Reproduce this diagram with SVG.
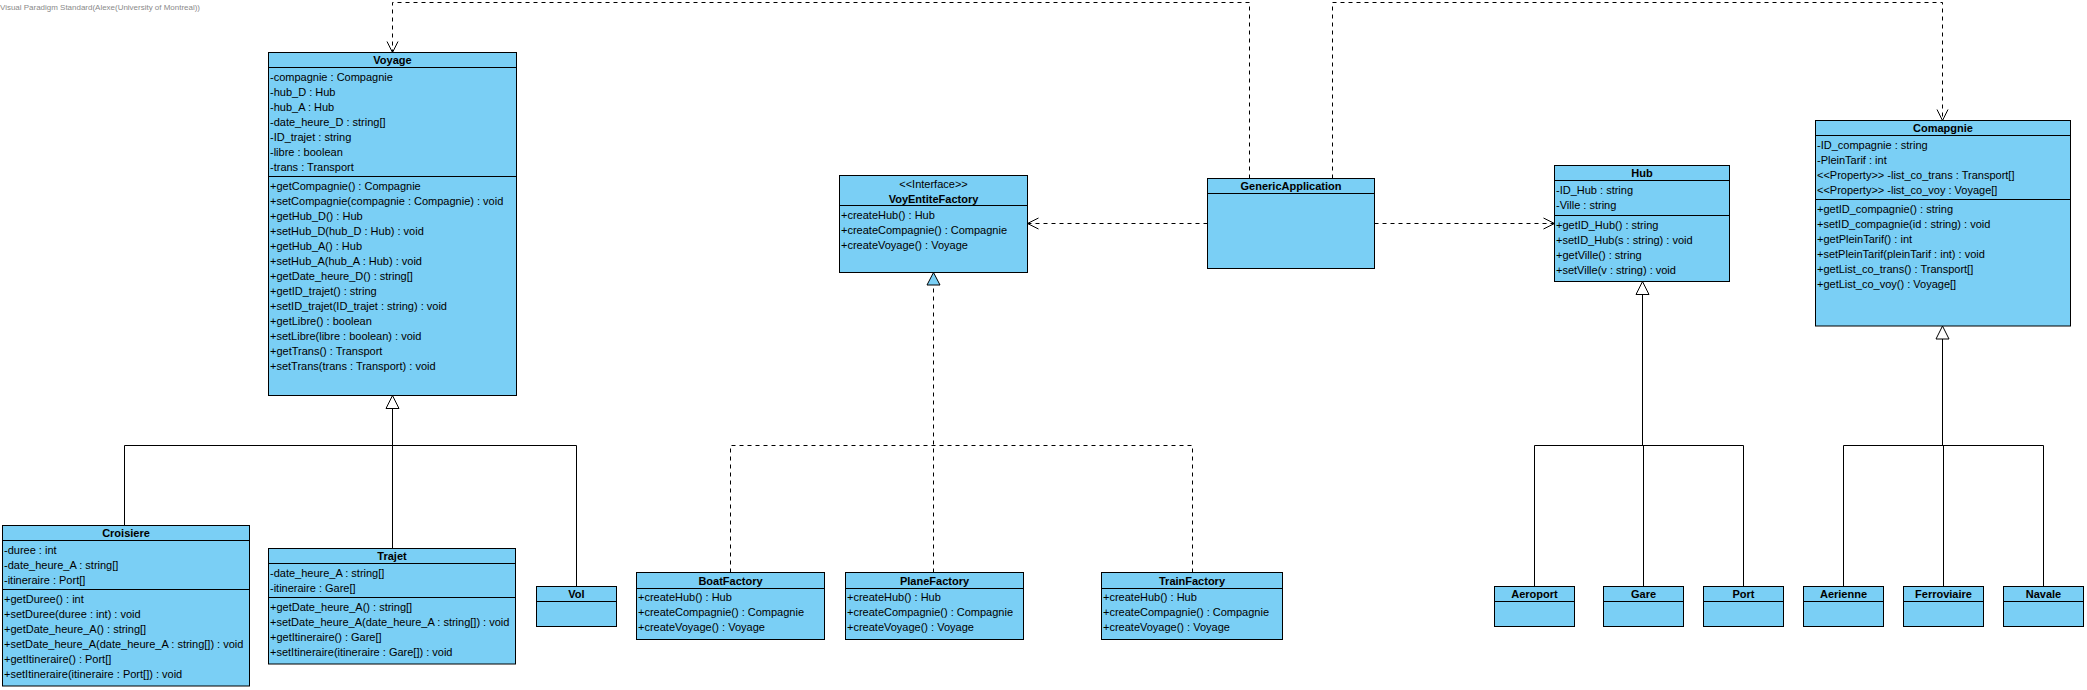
<svg xmlns="http://www.w3.org/2000/svg" width="2087" height="690" viewBox="0 0 2087 690">
<style>
text{font-family:"Liberation Sans",Arial,sans-serif;font-size:11px;fill:#000}
.t{font-weight:bold;text-anchor:middle}
.c{text-anchor:middle}
.box{fill:#7ACFF5;stroke:#000;stroke-width:1}
.ln{stroke:#000;stroke-width:1;fill:none}
.sol{stroke:#000;stroke-width:1;fill:none}
.dash{stroke:#000;stroke-width:1;fill:none;stroke-dasharray:4,4}
.wm{font-size:8px;fill:#8a8a8a}
</style>
<defs>
<marker id="gen" markerUnits="userSpaceOnUse" markerWidth="16" markerHeight="16" viewBox="-14 -8 16 16" refX="0" refY="0" orient="auto">
<path d="M0,0 L-13,-6.5 L-13,6.5 Z" fill="#fff" stroke="#000" stroke-width="1" stroke-dasharray="none"/>
</marker>
<marker id="real" markerUnits="userSpaceOnUse" markerWidth="16" markerHeight="16" viewBox="-14 -8 16 16" refX="0" refY="0" orient="auto">
<path d="M0,0 L-12.5,-6.5 L-12.5,6.5 Z" fill="#7ACFF5" stroke="#000" stroke-width="1" stroke-dasharray="none"/>
</marker>
<marker id="dep" markerUnits="userSpaceOnUse" markerWidth="16" markerHeight="16" viewBox="-14 -8 16 16" refX="0" refY="0" orient="auto">
<path d="M-11,-5.5 L0,0 L-11,5.5" fill="none" stroke="#000" stroke-width="1" stroke-dasharray="none"/>
</marker>
</defs>
<rect width="2087" height="690" fill="#fff"/>
<text class="wm" x="0" y="10" textLength="200" lengthAdjust="spacingAndGlyphs">Visual Paradigm Standard(Alexe(University of Montreal))</text>

<g id="connectors">
<!-- Voyage generalization -->
<path class="sol" d="M392.5,548.5 L392.5,395.5" marker-end="url(#gen)"/>
<path class="sol" d="M124.5,525.5 L124.5,445.5 L576.5,445.5 L576.5,586.5"/>
<!-- Hub generalization -->
<path class="sol" d="M1642.5,445.5 L1642.5,281.5" marker-end="url(#gen)"/>
<path class="sol" d="M1534.5,586.5 L1534.5,445.5 L1743.5,445.5 L1743.5,586.5 M1643.5,445.5 L1643.5,586.5"/>
<!-- Comapgnie generalization -->
<path class="sol" d="M1942.5,445.5 L1942.5,326" marker-end="url(#gen)"/>
<path class="sol" d="M1843.5,586.5 L1843.5,445.5 L2043.5,445.5 L2043.5,586.5 M1943.5,445.5 L1943.5,586.5"/>
<!-- Realization -->
<path class="dash" d="M933.5,572.5 L933.5,272.5" marker-end="url(#real)"/>
<path class="dash" d="M730.5,572.5 L730.5,445.5 L1192.5,445.5 L1192.5,572.5"/>
<!-- Dependencies -->
<path class="dash" d="M1207.5,223.5 L1027.5,223.5" marker-end="url(#dep)"/>
<path class="dash" d="M1374.5,223.5 L1554.5,223.5" marker-end="url(#dep)"/>
<path class="dash" d="M1249.5,178.5 L1249.5,2.5 L392.5,2.5 L392.5,52.5" marker-end="url(#dep)"/>
<path class="dash" d="M1332.5,178.5 L1332.5,2.5 L1942.5,2.5 L1942.5,120.5" marker-end="url(#dep)"/>
</g>

<g id="Voyage">
<rect class="box" x="268.5" y="52.5" width="248" height="343"/>
<path class="ln" d="M268.5,67.5 H516.5 M268.5,176.5 H516.5"/>
<text class="t" x="392.5" y="64">Voyage</text>
<text x="270" y="81">-compagnie : Compagnie</text>
<text x="270" y="96">-hub_D : Hub</text>
<text x="270" y="111">-hub_A : Hub</text>
<text x="270" y="126">-date_heure_D : string[]</text>
<text x="270" y="141">-ID_trajet : string</text>
<text x="270" y="156">-libre : boolean</text>
<text x="270" y="171">-trans : Transport</text>
<text x="270" y="190">+getCompagnie() : Compagnie</text>
<text x="270" y="205">+setCompagnie(compagnie : Compagnie) : void</text>
<text x="270" y="220">+getHub_D() : Hub</text>
<text x="270" y="235">+setHub_D(hub_D : Hub) : void</text>
<text x="270" y="250">+getHub_A() : Hub</text>
<text x="270" y="265">+setHub_A(hub_A : Hub) : void</text>
<text x="270" y="280">+getDate_heure_D() : string[]</text>
<text x="270" y="295">+getID_trajet() : string</text>
<text x="270" y="310">+setID_trajet(ID_trajet : string) : void</text>
<text x="270" y="325">+getLibre() : boolean</text>
<text x="270" y="340">+setLibre(libre : boolean) : void</text>
<text x="270" y="355">+getTrans() : Transport</text>
<text x="270" y="370">+setTrans(trans : Transport) : void</text>
</g>

<g id="Croisiere">
<rect class="box" x="2.5" y="525.5" width="247" height="160.5"/>
<path class="ln" d="M2.5,540.5 H249.5 M2.5,589.5 H249.5"/>
<text class="t" x="126" y="537">Croisiere</text>
<text x="4" y="554">-duree : int</text>
<text x="4" y="569">-date_heure_A : string[]</text>
<text x="4" y="584">-itineraire : Port[]</text>
<text x="4" y="603">+getDuree() : int</text>
<text x="4" y="618">+setDuree(duree : int) : void</text>
<text x="4" y="633">+getDate_heure_A() : string[]</text>
<text x="4" y="648">+setDate_heure_A(date_heure_A : string[]) : void</text>
<text x="4" y="663">+getItineraire() : Port[]</text>
<text x="4" y="678">+setItineraire(itineraire : Port[]) : void</text>
</g>

<g id="Trajet">
<rect class="box" x="268.5" y="548.5" width="247" height="115.5"/>
<path class="ln" d="M268.5,563.5 H515.5 M268.5,597.5 H515.5"/>
<text class="t" x="392" y="560">Trajet</text>
<text x="270" y="577">-date_heure_A : string[]</text>
<text x="270" y="592">-itineraire : Gare[]</text>
<text x="270" y="611">+getDate_heure_A() : string[]</text>
<text x="270" y="626">+setDate_heure_A(date_heure_A : string[]) : void</text>
<text x="270" y="641">+getItineraire() : Gare[]</text>
<text x="270" y="656">+setItineraire(itineraire : Gare[]) : void</text>
</g>

<g id="Vol">
<rect class="box" x="536.5" y="586.5" width="80" height="40"/>
<path class="ln" d="M536.5,601.5 H616.5"/>
<text class="t" x="576.5" y="598">Vol</text>
</g>

<g id="VoyEntiteFactory">
<rect class="box" x="839.5" y="175.5" width="188" height="97"/>
<path class="ln" d="M839.5,205.5 H1027.5"/>
<text class="c" x="933.5" y="187.5">&lt;&lt;Interface&gt;&gt;</text>
<text class="t" x="933.5" y="202.5">VoyEntiteFactory</text>
<text x="841" y="219">+createHub() : Hub</text>
<text x="841" y="234">+createCompagnie() : Compagnie</text>
<text x="841" y="249">+createVoyage() : Voyage</text>
</g>

<g id="GenericApplication">
<rect class="box" x="1207.5" y="178.5" width="167" height="90"/>
<path class="ln" d="M1207.5,193.5 H1374.5"/>
<text class="t" x="1291" y="190">GenericApplication</text>
</g>

<g id="Hub">
<rect class="box" x="1554.5" y="165.5" width="175" height="116"/>
<path class="ln" d="M1554.5,180.5 H1729.5 M1554.5,215.5 H1729.5"/>
<text class="t" x="1642" y="177">Hub</text>
<text x="1556" y="194">-ID_Hub : string</text>
<text x="1556" y="209">-Ville : string</text>
<text x="1556" y="228.5">+getID_Hub() : string</text>
<text x="1556" y="243.5">+setID_Hub(s : string) : void</text>
<text x="1556" y="258.5">+getVille() : string</text>
<text x="1556" y="273.5">+setVille(v : string) : void</text>
</g>

<g id="Comapgnie">
<rect class="box" x="1815.5" y="120.5" width="255" height="205.5"/>
<path class="ln" d="M1815.5,135.5 H2070.5 M1815.5,199.5 H2070.5"/>
<text class="t" x="1943" y="132">Comapgnie</text>
<text x="1817" y="149">-ID_compagnie : string</text>
<text x="1817" y="164">-PleinTarif : int</text>
<text x="1817" y="179">&lt;&lt;Property&gt;&gt; -list_co_trans : Transport[]</text>
<text x="1817" y="194">&lt;&lt;Property&gt;&gt; -list_co_voy : Voyage[]</text>
<text x="1817" y="213">+getID_compagnie() : string</text>
<text x="1817" y="228">+setID_compagnie(id : string) : void</text>
<text x="1817" y="243">+getPleinTarif() : int</text>
<text x="1817" y="258">+setPleinTarif(pleinTarif : int) : void</text>
<text x="1817" y="273">+getList_co_trans() : Transport[]</text>
<text x="1817" y="288">+getList_co_voy() : Voyage[]</text>
</g>

<g id="BoatFactory">
<rect class="box" x="636.5" y="572.5" width="188" height="67"/>
<path class="ln" d="M636.5,588.5 H824.5"/>
<text class="t" x="730.5" y="584.5">BoatFactory</text>
<text x="638" y="600.5">+createHub() : Hub</text>
<text x="638" y="615.5">+createCompagnie() : Compagnie</text>
<text x="638" y="630.5">+createVoyage() : Voyage</text>
</g>

<g id="PlaneFactory">
<rect class="box" x="845.5" y="572.5" width="178" height="67"/>
<path class="ln" d="M845.5,588.5 H1023.5"/>
<text class="t" x="934.5" y="584.5">PlaneFactory</text>
<text x="847" y="600.5">+createHub() : Hub</text>
<text x="847" y="615.5">+createCompagnie() : Compagnie</text>
<text x="847" y="630.5">+createVoyage() : Voyage</text>
</g>

<g id="TrainFactory">
<rect class="box" x="1101.5" y="572.5" width="181" height="67"/>
<path class="ln" d="M1101.5,588.5 H1282.5"/>
<text class="t" x="1192" y="584.5">TrainFactory</text>
<text x="1103" y="600.5">+createHub() : Hub</text>
<text x="1103" y="615.5">+createCompagnie() : Compagnie</text>
<text x="1103" y="630.5">+createVoyage() : Voyage</text>
</g>

<g id="Aeroport">
<rect class="box" x="1494.5" y="586.5" width="80" height="40"/>
<path class="ln" d="M1494.5,601.5 H1574.5"/>
<text class="t" x="1534.5" y="598">Aeroport</text>
</g>
<g id="Gare">
<rect class="box" x="1603.5" y="586.5" width="80" height="40"/>
<path class="ln" d="M1603.5,601.5 H1683.5"/>
<text class="t" x="1643.5" y="598">Gare</text>
</g>
<g id="Port">
<rect class="box" x="1703.5" y="586.5" width="80" height="40"/>
<path class="ln" d="M1703.5,601.5 H1783.5"/>
<text class="t" x="1743.5" y="598">Port</text>
</g>
<g id="Aerienne">
<rect class="box" x="1803.5" y="586.5" width="80" height="40"/>
<path class="ln" d="M1803.5,601.5 H1883.5"/>
<text class="t" x="1843.5" y="598">Aerienne</text>
</g>
<g id="Ferroviaire">
<rect class="box" x="1903.5" y="586.5" width="80" height="40"/>
<path class="ln" d="M1903.5,601.5 H1983.5"/>
<text class="t" x="1943.5" y="598">Ferroviaire</text>
</g>
<g id="Navale">
<rect class="box" x="2003.5" y="586.5" width="80" height="40"/>
<path class="ln" d="M2003.5,601.5 H2083.5"/>
<text class="t" x="2043.5" y="598">Navale</text>
</g>
</svg>
